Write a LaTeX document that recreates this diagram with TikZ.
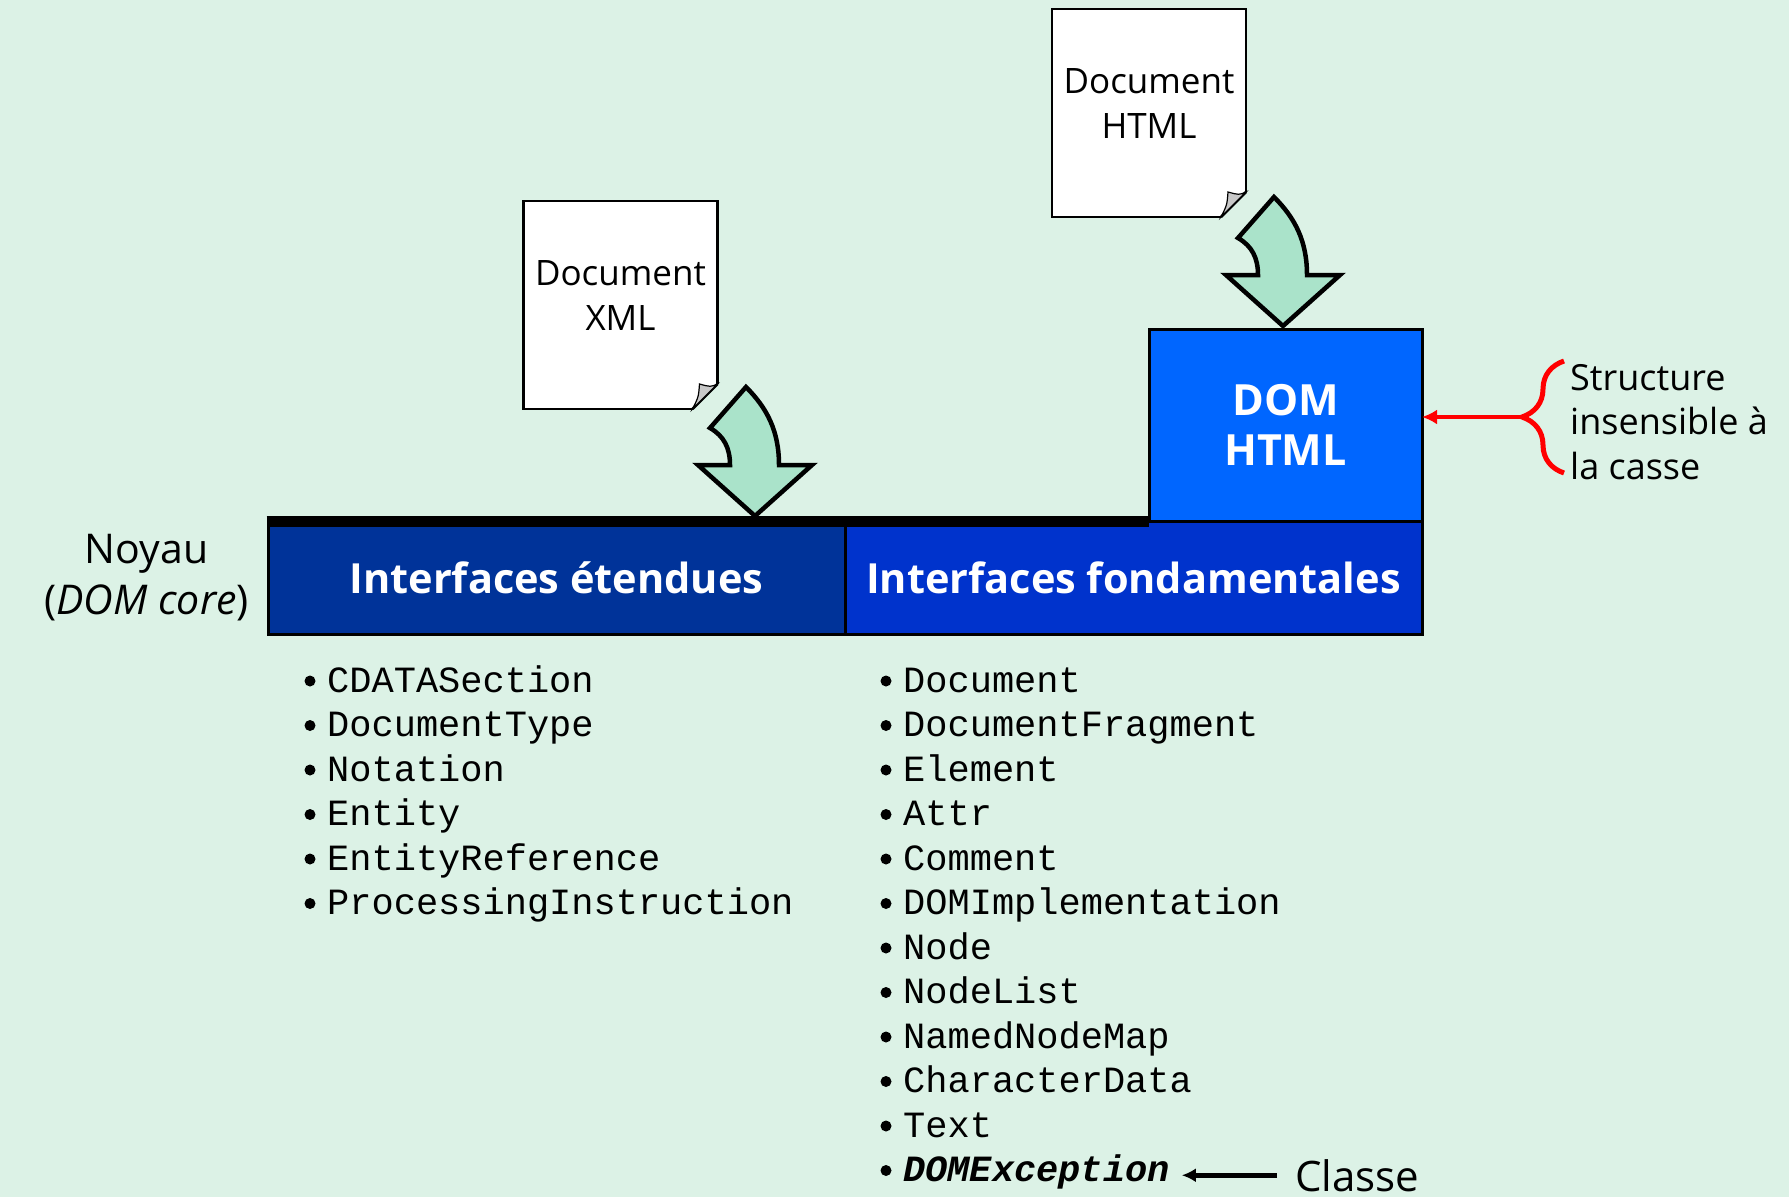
\documentclass[tikz,border=0pt]{standalone}
\usepackage{fontspec}
\setmainfont{Open Sans}
\setmonofont{Liberation Mono}
\usepackage{tikz}
\usetikzlibrary{arrows.meta}
\usetikzlibrary{positioning}
\usetikzlibrary{decorations.pathreplacing}

\definecolor{bgmint}{RGB}{220,242,230}
\definecolor{arrowmint}{RGB}{170,227,202}
\definecolor{extblue}{RGB}{0,51,153}
\definecolor{fondblue}{RGB}{0,51,204}
\definecolor{htmlblue}{RGB}{0,102,255}
\definecolor{foldgray}{RGB}{200,200,200}

\tikzset{
  sheet/.style={draw, line width=2.5pt, fill=white, minimum width=194pt, minimum height=208pt, inner sep=0pt, outer sep=0pt},
  doctext/.style={inner sep=0pt, align=center, font=\fontsize{35}{45}\selectfont},
  ifbox/.style={draw, line width=3pt, minimum width=577pt, minimum height=113pt, inner sep=0pt, outer sep=0pt, text=white, font=\fontsize{41.5}{45}\selectfont\bfseries},
  plain/.style={inner sep=0pt, font=\fontsize{37}{51}\selectfont},
  item/.style={inner sep=0pt, anchor=base west, font=\fontsize{37}{44.5}\selectfont\ttfamily},
  arrowshape/.style={draw, line width=4.5pt, fill=arrowmint},
  bentarrow/.pic={
    \draw[arrowshape] (-9,-129) .. controls (12,-108) and (24,-85) .. (24,-51)
      -- (57,-51) -- (0,0) -- (-57,-51) -- (-25,-51)
      .. controls (-25,-68) and (-31,-80) .. (-45,-88) -- cycle;
  },
}

% dog-ear at the lower right corner of a sheet
\newcommand{\sheetfold}[1]{%
  \fill[bgmint] ([shift={(2,2)}]#1.south east) -- ([shift={(2,-26)}]#1.south east) -- ([shift={(-26,2)}]#1.south east) -- cycle;
  \draw[line width=2.5pt] ([shift={(0,-25)}]#1.south east) -- ([shift={(-25,0)}]#1.south east);
  \draw[line width=1.2pt, fill=foldgray] ([shift={(0,-25)}]#1.south east)
    .. controls ([shift={(-7,-22)}]#1.south east) .. ([shift={(-18,-25)}]#1.south east)
    .. controls ([shift={(-19,-12)}]#1.south east) .. ([shift={(-25,0)}]#1.south east) -- cycle;
}

\begin{document}
\begin{tikzpicture}[x=1pt, y=-1pt]
    \useasboundingbox (0,0) rectangle (1789,1197);
    \fill[bgmint] (0,0) rectangle (1789,1197);

    % source documents
    \node[sheet] (xmldoc) at (620.5,305) {};
    \node[doctext] (xmllbl) at ([yshift=9pt]xmldoc.center) {Document\\XML};
    \sheetfold{xmldoc}
    \node[sheet] (htmldoc) at (1149,113) {};
    \node[doctext] (htmllbl) at ([yshift=9pt]htmldoc.center) {Document\\HTML};
    \sheetfold{htmldoc}

    % interfaces
    \node[ifbox, fill=extblue] (ext) at (556.5,577.5) {Interfaces étendues};
    \node[ifbox, fill=fondblue, right=0pt of ext] (fond) {Interfaces fondamentales};
    \node[ifbox, fill=htmlblue, minimum width=273pt, minimum height=192pt, align=center,
          font=\fontsize{43}{50}\selectfont\bfseries, above left=0pt of fond.north east] (domhtml) {DOM\\HTML};
    \draw[line width=11pt] ([xshift=-1.5pt]ext.north west) -- (ext.north west -| domhtml.west);

    \pic at (755,516) {bentarrow};
    \pic at (1283,326) {bentarrow};

    \node[plain, align=center, font=\fontsize{41}{51}\selectfont, left=19pt of ext] (noyau) {Noyau\\(\textit{DOM core})};

    % lists
    \foreach \itemname [count=\i] in {CDATASection,DocumentType,Notation,Entity,EntityReference,ProcessingInstruction}
    {
        \node[item] (extitem\i) at (327,{692+44.5*(\i-1)}) {\itemname};
        \fill ([shift={(-17,-11)}]extitem\i.base west) circle (5.5);
    }
    \foreach \itemname [count=\i] in {Document,DocumentFragment,Element,Attr,Comment,DOMImplementation,Node,NodeList,NamedNodeMap,CharacterData,Text}
    {
        \node[item] (fonditem\i) at (903,{692+44.5*(\i-1)}) {\itemname};
        \fill ([shift={(-17,-11)}]fonditem\i.base west) circle (5.5);
    }
    \node[item, font=\fontsize{37}{44.5}\selectfont\ttfamily\bfseries\itshape] (domexc) at (903,1181.5) {DOMException};
    \fill ([shift={(-17,-11)}]domexc.base west) circle (5.5);

    \node[plain, anchor=base west, font=\fontsize{42}{48}\selectfont] (classe) at (1295,1191) {Classe};
    \draw[line width=4.5pt, -{Latex[length=14pt,width=14pt]}, shorten <=18pt, shorten >=12pt] (classe.west) -- (classe.west -| domexc.east);

    % case-insensitive note
    \coordinate (bracetip) at (1522,417);
    \draw[red, line width=5pt, decorate, decoration={brace, amplitude=42pt}] (1564,473) -- (1564,361);
    \draw[red, line width=4.5pt, -{Latex[length=15pt,width=15pt]}] (bracetip) -- (bracetip -| domhtml.east);
    \node[plain, align=left, font=\fontsize{36}{44.5}\selectfont, right=48pt of bracetip, yshift=-5pt] (casse) {Structure\\insensible à\\la casse};
\end{tikzpicture}
\end{document}
